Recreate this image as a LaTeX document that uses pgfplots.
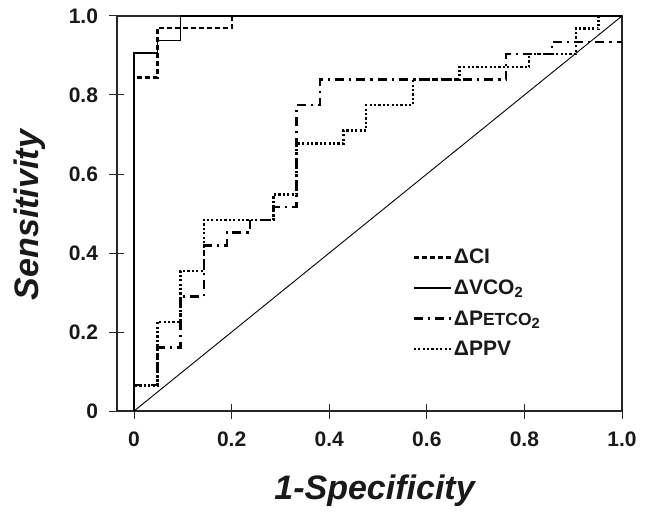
\documentclass[border=0pt]{standalone}
\usepackage{pgfplots}
\pgfplotsset{compat=1.18}
\usepackage{fontspec}
\setmainfont{Liberation Sans}
\begin{document}
\begin{tikzpicture}
\begin{axis}[
  at={(0pt,0pt)}, anchor=south west,
  scale only axis,
  width=505pt, height=395pt,
  xmin=-0.035, xmax=1.0, ymin=0, ymax=1,
  xtick={0,0.2,0.4,0.6,0.8,1.0},
  xticklabels={0,0.2,0.4,0.6,0.8,1.0},
  ytick={0,0.2,0.4,0.6,0.8,1.0},
  yticklabels={0,0.2,0.4,0.6,0.8,1.0},
  xtick pos=bottom, ytick pos=left,
  tick align=center,
  major tick length=15pt,
  major tick style={line width=1pt, black!85},
  axis line style={line width=2.2pt, black!85},
  /pgf/number format/assume math mode=true,
  ticklabel style={font=\bfseries\fontsize{21}{21}\selectfont, text=black!90},
  yticklabel style={xshift=-8pt},
  xticklabel style={yshift=-10pt},
  xlabel={\bfseries\itshape 1-Specificity},
  ylabel={\bfseries\itshape Sensitivity},
  label style={font=\fontsize{34}{34}\selectfont, text=black!90},
  xlabel style={at={(axis description cs:0.51,-0.2253)}, anchor=base},
  ylabel style={at={(axis description cs:-0.1545,0.496)}, anchor=base},
  legend cell align=left,
  legend style={draw=none, fill=none, at={(axis description cs:0.585,0.415)}, anchor=north west,
    font=\bfseries\fontsize{21}{21}\selectfont, inner sep=0pt, row sep=10.5pt,
    nodes={inner sep=2pt, text=black!90}},
  legend image code/.code={\draw[#1] (0pt,0pt) -- (37pt,0pt);},
]
\addplot[black, line width=0.9pt, forget plot] coordinates {(0,0) (1,1)};
% Delta CI
\addplot[black, line width=2.3pt, dash pattern=on 5pt off 3pt] coordinates {
(0,0)(0,0.844)(0.048,0.844)(0.048,0.969)(0.2,0.969)(0.2,1)(1,1)};
\addlegendentry{ΔCI}
% Delta VCO2
\addplot[black, line width=1.4pt] coordinates {
(0,0)(0,0.906)(0.048,0.906)(0.048,0.938)(0.095,0.938)(0.095,1)(1,1)};
\addlegendentry{ΔVCO\textsubscript{2}}
% Delta PETCO2
\addplot[black, line width=2.3pt, dash pattern=on 9pt off 5pt on 2.3pt off 5pt] coordinates {
(0,0)(0,0.065)(0.048,0.065)(0.048,0.161)(0.095,0.161)(0.095,0.290)(0.143,0.290)(0.143,0.419)
(0.19,0.419)(0.19,0.452)(0.238,0.452)(0.238,0.484)(0.286,0.484)(0.286,0.516)(0.333,0.516)
(0.333,0.774)(0.381,0.774)(0.381,0.839)(0.762,0.839)(0.762,0.903)(0.857,0.903)(0.857,0.935)(1,0.935)};
\addlegendentry{ΔP{\fontsize{17.5}{17.5}\selectfont ETCO}\textsubscript{2}}
% Delta PPV
\addplot[black, line width=2.3pt, dash pattern=on 2.2pt off 2.2pt] coordinates {
(0,0)(0,0.0645)(0.048,0.0645)(0.048,0.226)(0.095,0.226)(0.095,0.355)(0.143,0.355)(0.143,0.484)
(0.286,0.484)(0.286,0.548)(0.333,0.548)(0.333,0.677)(0.429,0.677)(0.429,0.710)(0.476,0.710)
(0.476,0.774)(0.571,0.774)(0.571,0.839)(0.667,0.839)(0.667,0.871)(0.810,0.871)(0.810,0.903)
(0.905,0.903)(0.905,0.968)(0.952,0.968)(0.952,1)(1,1)};
\addlegendentry{ΔPPV}
\end{axis}
\pgfresetboundingbox
\path[use as bounding box] (-117pt,-101pt) rectangle (533pt,411pt);
\end{tikzpicture}
\end{document}
